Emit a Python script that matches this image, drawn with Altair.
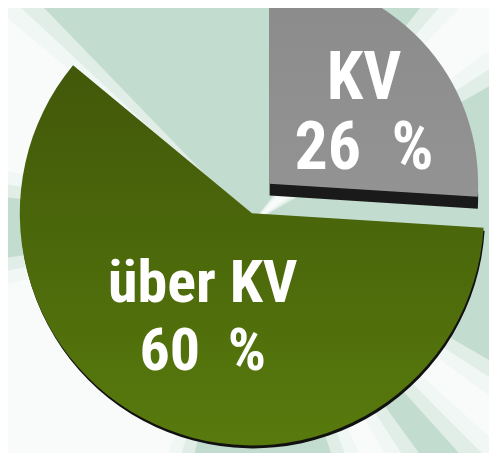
import altair as alt
import pandas as pd

# Data
categories = ["KV", "über KV", "Rest"]
values = [26, 60, 14]
# Background ray wedges (degrees, clockwise from 12 o'clock) – decoration only
ray_start = [200, 282, 44, 126, 150]
ray_end = [256, 310, 54, 132, 155]
ray_spread = [0, 3, 6]

df = pd.DataFrame({"cat": categories, "value": values})
rays = pd.DataFrame(
    [{"s": s - d, "e": e + d} for s, e in zip(ray_start, ray_end) for d in ray_spread]
)

W, H = 489, 445
GCX, GCY, GR = 248, 205, 236     # green pie centre / radius (chart coords)
KCX, KCY, KR = 266, 175, 212     # exploded grey slice centre / radius

base = alt.Chart(df).transform_window(
    cum="sum(value)", frame=[None, 0]
).transform_calculate(start="datum.cum - datum.value")

theta = alt.Theta("start:Q", scale=alt.Scale(domain=[0, 100]))
theta2 = alt.Theta2("cum:Q")

green_grad = alt.Gradient(
    gradient="linear", x1=0, x2=0, y1=0, y2=1,
    stops=[alt.GradientStop(color="#42580a", offset=0),
           alt.GradientStop(color="#4c690b", offset=0.5),
           alt.GradientStop(color="#587a0d", offset=1)],
)
grey_grad = alt.Gradient(
    gradient="linear", x1=0, x2=0, y1=0, y2=1,
    stops=[alt.GradientStop(color="#8b8b8b", offset=0),
           alt.GradientStop(color="#939393", offset=1)],
)

ray_layer = alt.Chart(rays).transform_calculate(
    s="datum.s * PI / 180", e="datum.e * PI / 180"
).mark_arc(radius=900, color="white", opacity=0.5).encode(
    theta=alt.Theta("s:Q", scale=None), theta2="e:Q",
    x=alt.value(GCX), y=alt.value(GCY + 10),
)

def slice_layer(cat, color, cx, cy, r):
    return base.transform_filter(alt.datum.cat == cat).mark_arc(
        radius=r, color=color
    ).encode(theta=theta, theta2=theta2, x=alt.value(cx), y=alt.value(cy))

green_shadow = slice_layer("über KV", "#111111", GCX + 1, GCY + 3, GR)
green = slice_layer("über KV", green_grad, GCX, GCY, GR)
grey_shadow = slice_layer("KV", "#1a1a1a", KCX, KCY + 12, KR)
grey = slice_layer("KV", grey_grad, KCX, KCY, KR)

def label_layer(cat, cx, cy, size, lh):
    return base.transform_filter(alt.datum.cat == cat).transform_calculate(
        label="datum.cat + '\\n' + datum.value + '\u00a0\u00a0%'"
    ).mark_text(
        font="Roboto Condensed, Roboto, Liberation Sans",
        fontWeight="bold", fontSize=size, color="white",
        align="center", baseline="alphabetic", lineBreak="\n", lineHeight=lh,
    ).encode(text="label:N", x=alt.value(cx), y=alt.value(cy))

kv_text = label_layer("KV", 362, 89, 67, 71)
ueber_text = label_layer("über KV", 198, 295, 61, 69)

chart = alt.layer(
    ray_layer, green_shadow, green, grey_shadow, grey, kv_text, ueber_text
).properties(
    width=W, height=H, padding=0, autosize="none", background="#c3dcd0"
).configure_view(stroke=None)

chart.save("out.html", embed_options={"renderer": "svg", "actions": False})
